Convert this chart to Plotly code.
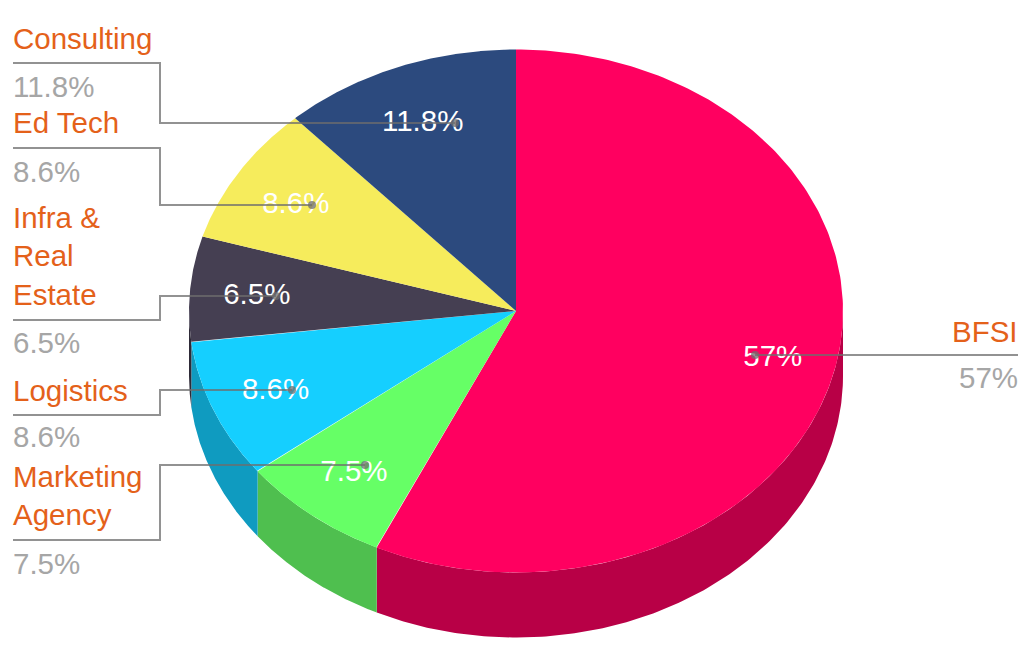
import numpy as np
import plotly.graph_objects as go

# Data
categories = ["BFSI", "Marketing<br>Agency", "Logistics", "Infra &<br>Real<br>Estate", "Ed Tech", "Consulting"]
values = [57, 7.5, 8.6, 6.5, 8.6, 11.8]
value_labels = ["57%", "7.5%", "8.6%", "6.5%", "8.6%", "11.8%"]

# Styles
top_colors = ["#ff0060", "#66ff66", "#15cfff", "#453f52", "#f6ec5c", "#2c4a7e"]
wall_colors = ["#b80046", "#4fbf4f", "#0f9bc0", "#2e2a37", "#b8b045", "#1f3459"]
NAME_COLOR = "#e4611a"
VALUE_COLOR = "#a6a6a6"
LINE_COLOR = "rgba(110,110,110,0.75)"
FONT = "Liberation Sans, Arial, sans-serif"
FS = 29.5

# Geometry (pixel coordinates of the page)
W, H = 1034, 653
CX, CY, RX, RY, DEPTH = 516, 311, 327, 261.5, 65


def pt(a, extra=0.0):
    r = np.radians(a)
    return CX + RX * np.sin(r), CY - RY * np.cos(r) + extra


total = sum(values)
edges = np.concatenate([[0], np.cumsum(values)]) * 360.0 / total
fig = go.Figure()

# Side walls, only the front half (90..270 deg clockwise from top)
for i in range(len(values)):
    a0, a1 = max(edges[i], 90), min(edges[i + 1], 270)
    if a1 <= a0:
        continue
    t = np.linspace(a0, a1, 160)
    xt, yt = pt(t)
    xb, yb = pt(t[::-1], DEPTH)
    fig.add_trace(go.Scatter(x=np.r_[xt, xb, xt[0]], y=np.r_[yt, yb, yt[0]], mode="lines",
                             fill="toself", fillcolor=wall_colors[i], line=dict(width=0),
                             hoverinfo="skip", showlegend=False))

# Top slices
for i in range(len(values)):
    t = np.linspace(edges[i], edges[i + 1], 240)
    xt, yt = pt(t)
    fig.add_trace(go.Scatter(x=np.r_[CX, xt, CX], y=np.r_[CY, yt, CY], mode="lines",
                             fill="toself", fillcolor=top_colors[i], line=dict(width=0),
                             name=categories[i].replace("<br>", " "), hoverinfo="name",
                             showlegend=False))

# Inner white percentage labels placed from the slice mid-angles
mid = (edges[:-1] + edges[1:]) / 2
rad = np.radians(mid)
fig.add_trace(go.Scatter(x=CX + 1.5 + RX * 0.8 * np.sin(rad), y=CY + 3 - RY * 0.78 * np.cos(rad),
                         mode="text", text=value_labels, textposition="middle center",
                         textfont=dict(family=FONT, size=FS, color="white"),
                         hoverinfo="skip", showlegend=False))

# Connectors (layout: one elbow path per label, in category order)
connector_x = [[1018, 755], [13, 160, 160, 365], [13, 160, 160, 292],
               [13, 160, 160, 276], [13, 160, 160, 312], [13, 160, 160, 455]]
connector_y = [[355, 355], [540, 540, 465, 465], [415, 415, 390, 390],
               [320, 320, 296, 296], [148, 148, 205, 205], [63, 63, 123, 123]]
for xs, ys in zip(connector_x, connector_y):
    fig.add_trace(go.Scatter(x=xs, y=ys, mode="lines", line=dict(color=LINE_COLOR, width=2),
                             hoverinfo="skip", showlegend=False))
    fig.add_trace(go.Scatter(x=[xs[-1]], y=[ys[-1]], mode="markers",
                             marker=dict(color=LINE_COLOR, size=8, line=dict(width=0)),
                             hoverinfo="skip", showlegend=False))

# Outside labels (layout: anchor x, name centre y, value centre y)
name_pos = [(1020, 331, "right"), (11, 495.5, "left"), (11, 390, "left"),
            (11, 255.5, "left"), (11, 122, "left"), (11, 38, "left")]
value_y = [377, 563, 436, 342, 171, 86]
anns = []
for i, (x, y, al) in enumerate(name_pos):
    anns.append(dict(x=x, y=y, text=categories[i], xref="x", yref="y", showarrow=False,
                     xanchor=al, yanchor="middle", align=al,
                     font=dict(family=FONT, size=FS, color=NAME_COLOR)))
    anns.append(dict(x=x, y=value_y[i], text=value_labels[i], xref="x", yref="y", showarrow=False,
                     xanchor=al, yanchor="middle", align=al,
                     font=dict(family=FONT, size=FS, color=VALUE_COLOR)))

fig.update_layout(width=W, height=H, margin=dict(l=0, r=0, t=0, b=0),
                  paper_bgcolor="white", plot_bgcolor="white", annotations=anns,
                  xaxis=dict(range=[0, W], visible=False, fixedrange=True),
                  yaxis=dict(range=[H, 0], visible=False, fixedrange=True),
                  showlegend=False)
fig.write_html("out.html", config=dict(displayModeBar=False),
               post_script="document.body.style.margin='0';document.documentElement.style.overflow='hidden';")
